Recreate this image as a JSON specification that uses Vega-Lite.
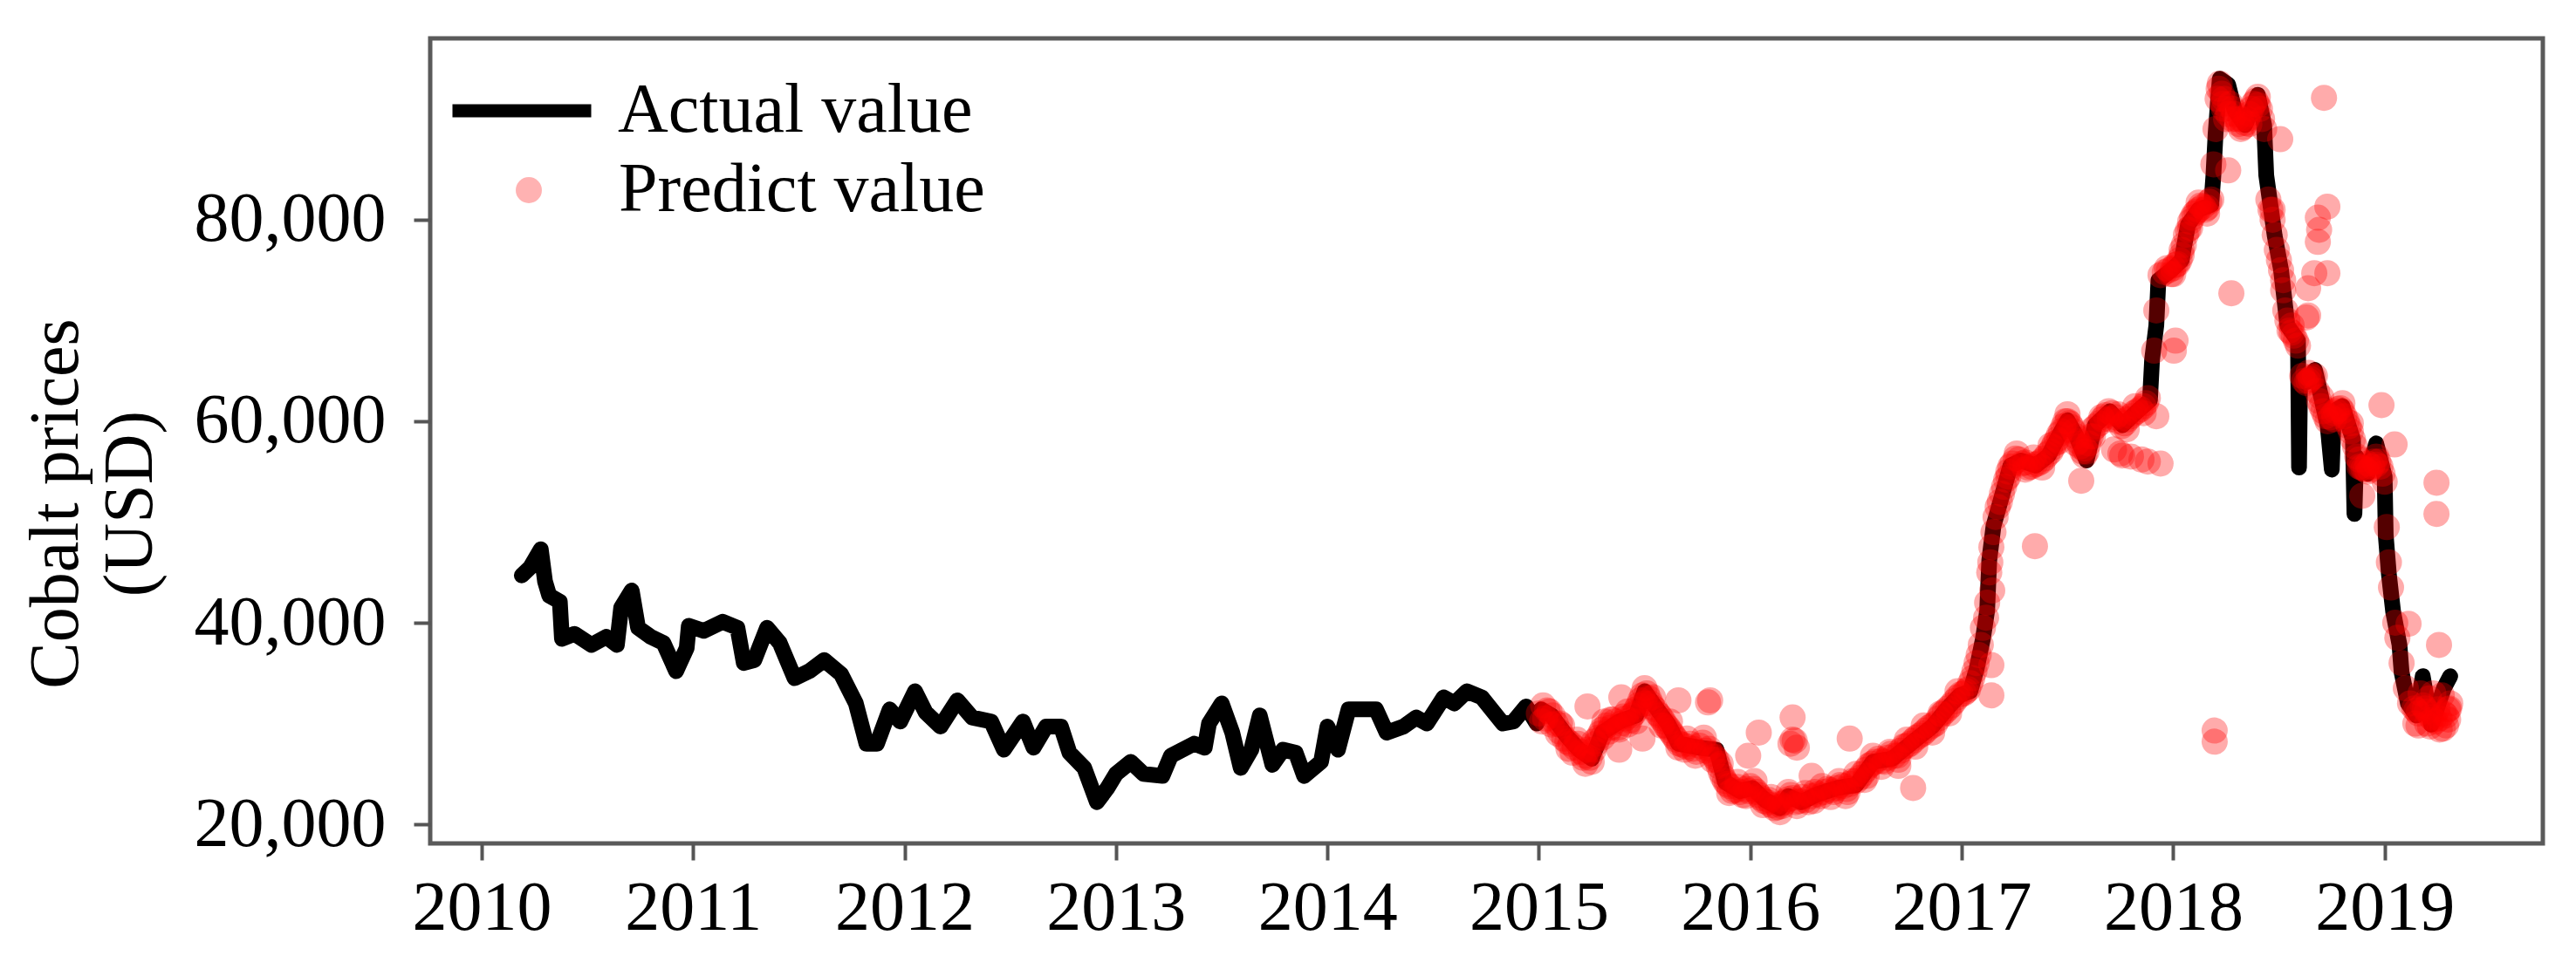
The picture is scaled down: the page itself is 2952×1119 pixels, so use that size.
{
  "$schema": "https://vega.github.io/schema/vega-lite/v6.json",
  "width": 2421,
  "height": 923,
  "autosize": {"type": "none"},
  "padding": {"left": 493, "top": 44, "right": 38, "bottom": 152},
  "background": "white",
  "config": {
    "view": {"stroke": "#5a5a5a", "strokeWidth": 5},
    "font": "Liberation Serif",
    "axis": {
      "labelFont": "Liberation Serif",
      "labelFontSize": 80,
      "labelColor": "black",
      "labelLimit": 0,
      "labelOverlap": false,
      "labelFlush": false,
      "titleFont": "Liberation Serif",
      "titleFontSize": 80,
      "titleFontWeight": "normal",
      "titleColor": "black",
      "tickColor": "#555555",
      "tickWidth": 4,
      "tickSize": 19,
      "grid": false,
      "domain": false
    }
  },
  "datasets": {
    "actual": [
      {"t": 2010.19, "price": 44700}, {"t": 2010.23, "price": 45500}, {"t": 2010.28, "price": 47300},
      {"t": 2010.30, "price": 44100}, {"t": 2010.32, "price": 42700}, {"t": 2010.37, "price": 42100},
      {"t": 2010.38, "price": 38400}, {"t": 2010.44, "price": 38900}, {"t": 2010.52, "price": 37800},
      {"t": 2010.59, "price": 38600}, {"t": 2010.64, "price": 37800}, {"t": 2010.66, "price": 41500},
      {"t": 2010.71, "price": 43200}, {"t": 2010.74, "price": 39500}, {"t": 2010.80, "price": 38600},
      {"t": 2010.86, "price": 38000}, {"t": 2010.92, "price": 35200}, {"t": 2010.97, "price": 37500},
      {"t": 2010.98, "price": 39700}, {"t": 2011.05, "price": 39200}, {"t": 2011.14, "price": 40100},
      {"t": 2011.21, "price": 39500}, {"t": 2011.24, "price": 36000}, {"t": 2011.29, "price": 36300},
      {"t": 2011.35, "price": 39500}, {"t": 2011.41, "price": 38000}, {"t": 2011.48, "price": 34500},
      {"t": 2011.55, "price": 35200}, {"t": 2011.62, "price": 36300}, {"t": 2011.70, "price": 34900},
      {"t": 2011.77, "price": 32000}, {"t": 2011.82, "price": 28000}, {"t": 2011.87, "price": 28000},
      {"t": 2011.93, "price": 31400}, {"t": 2011.98, "price": 30200}, {"t": 2012.05, "price": 33200},
      {"t": 2012.10, "price": 31100}, {"t": 2012.17, "price": 29700}, {"t": 2012.25, "price": 32300},
      {"t": 2012.32, "price": 30600}, {"t": 2012.41, "price": 30200}, {"t": 2012.47, "price": 27400},
      {"t": 2012.56, "price": 30200}, {"t": 2012.61, "price": 27600}, {"t": 2012.67, "price": 29700},
      {"t": 2012.74, "price": 29700}, {"t": 2012.78, "price": 27100}, {"t": 2012.85, "price": 25600},
      {"t": 2012.91, "price": 22200}, {"t": 2012.96, "price": 23600}, {"t": 2013.00, "price": 25000},
      {"t": 2013.07, "price": 26200}, {"t": 2013.13, "price": 25000}, {"t": 2013.22, "price": 24800},
      {"t": 2013.26, "price": 26800}, {"t": 2013.37, "price": 28000}, {"t": 2013.42, "price": 27600},
      {"t": 2013.44, "price": 30000}, {"t": 2013.50, "price": 32000}, {"t": 2013.55, "price": 29100},
      {"t": 2013.59, "price": 25600}, {"t": 2013.64, "price": 27400}, {"t": 2013.68, "price": 30800},
      {"t": 2013.74, "price": 25900}, {"t": 2013.79, "price": 27400}, {"t": 2013.85, "price": 27100},
      {"t": 2013.89, "price": 24800}, {"t": 2013.97, "price": 26200}, {"t": 2014.00, "price": 29700},
      {"t": 2014.05, "price": 27400}, {"t": 2014.10, "price": 31400}, {"t": 2014.18, "price": 31400},
      {"t": 2014.23, "price": 31400}, {"t": 2014.28, "price": 29100}, {"t": 2014.36, "price": 29700},
      {"t": 2014.42, "price": 30600}, {"t": 2014.47, "price": 30000}, {"t": 2014.55, "price": 32600},
      {"t": 2014.60, "price": 32000}, {"t": 2014.66, "price": 33200}, {"t": 2014.73, "price": 32600},
      {"t": 2014.83, "price": 30000}, {"t": 2014.88, "price": 30200}, {"t": 2014.94, "price": 31700},
      {"t": 2014.99, "price": 30000}, {"t": 2015.01, "price": 31400}, {"t": 2015.06, "price": 30800},
      {"t": 2015.13, "price": 28800}, {"t": 2015.19, "price": 27400}, {"t": 2015.25, "price": 26500},
      {"t": 2015.30, "price": 29100}, {"t": 2015.38, "price": 30200}, {"t": 2015.46, "price": 30800},
      {"t": 2015.50, "price": 33200}, {"t": 2015.55, "price": 31700}, {"t": 2015.61, "price": 30000},
      {"t": 2015.66, "price": 28000}, {"t": 2015.76, "price": 27600}, {"t": 2015.84, "price": 27400},
      {"t": 2015.88, "price": 24200}, {"t": 2015.95, "price": 23300}, {"t": 2016.01, "price": 23600},
      {"t": 2016.07, "price": 22400}, {"t": 2016.14, "price": 21600}, {"t": 2016.18, "price": 22800},
      {"t": 2016.24, "price": 22200}, {"t": 2016.32, "price": 23000}, {"t": 2016.41, "price": 23600},
      {"t": 2016.50, "price": 23900}, {"t": 2016.58, "price": 26200}, {"t": 2016.67, "price": 26500},
      {"t": 2016.77, "price": 28200}, {"t": 2016.86, "price": 29700}, {"t": 2016.94, "price": 31700},
      {"t": 2016.99, "price": 32800}, {"t": 2017.04, "price": 33200}, {"t": 2017.07, "price": 35400},
      {"t": 2017.10, "price": 38400}, {"t": 2017.12, "price": 41200}, {"t": 2017.13, "price": 46200},
      {"t": 2017.15, "price": 49600}, {"t": 2017.19, "price": 52600}, {"t": 2017.23, "price": 55600},
      {"t": 2017.28, "price": 56100}, {"t": 2017.35, "price": 55600}, {"t": 2017.41, "price": 56600},
      {"t": 2017.46, "price": 58600}, {"t": 2017.50, "price": 60100}, {"t": 2017.54, "price": 58600},
      {"t": 2017.59, "price": 56100}, {"t": 2017.63, "price": 59600}, {"t": 2017.70, "price": 61000},
      {"t": 2017.76, "price": 59600}, {"t": 2017.83, "price": 61000}, {"t": 2017.89, "price": 62100},
      {"t": 2017.90, "price": 66100}, {"t": 2017.92, "price": 69500}, {"t": 2017.93, "price": 74000},
      {"t": 2017.99, "price": 75000}, {"t": 2018.04, "price": 76000}, {"t": 2018.07, "price": 79500},
      {"t": 2018.12, "price": 81000}, {"t": 2018.18, "price": 81500}, {"t": 2018.19, "price": 84400},
      {"t": 2018.20, "price": 88400}, {"t": 2018.22, "price": 94000}, {"t": 2018.26, "price": 93400},
      {"t": 2018.29, "price": 90900}, {"t": 2018.34, "price": 89400}, {"t": 2018.40, "price": 92400},
      {"t": 2018.43, "price": 89400}, {"t": 2018.44, "price": 84400}, {"t": 2018.48, "price": 78400},
      {"t": 2018.51, "price": 75000}, {"t": 2018.54, "price": 69500}, {"t": 2018.59, "price": 68000},
      {"t": 2018.595, "price": 55400}, {"t": 2018.60, "price": 64000}, {"t": 2018.63, "price": 63900},
      {"t": 2018.67, "price": 65100}, {"t": 2018.73, "price": 59600}, {"t": 2018.75, "price": 55200},
      {"t": 2018.76, "price": 61000}, {"t": 2018.80, "price": 61500}, {"t": 2018.85, "price": 58200},
      {"t": 2018.857, "price": 50800}, {"t": 2018.865, "price": 56500}, {"t": 2018.92, "price": 54800},
      {"t": 2018.96, "price": 57800}, {"t": 2019.00, "price": 54500}, {"t": 2019.005, "price": 48700},
      {"t": 2019.02, "price": 44800}, {"t": 2019.04, "price": 41100}, {"t": 2019.07, "price": 37800},
      {"t": 2019.08, "price": 35100}, {"t": 2019.11, "price": 32000}, {"t": 2019.15, "price": 30800},
      {"t": 2019.18, "price": 34700}, {"t": 2019.22, "price": 29900}, {"t": 2019.28, "price": 33500},
      {"t": 2019.31, "price": 34700}
    ],
    "predict": [
      {"t": 2015.00, "price": 31000}, {"t": 2015.03, "price": 30500}, {"t": 2015.05, "price": 31200},
      {"t": 2015.08, "price": 30000}, {"t": 2015.10, "price": 29200}, {"t": 2015.12, "price": 28500},
      {"t": 2015.15, "price": 28000}, {"t": 2015.17, "price": 27600}, {"t": 2015.20, "price": 27200},
      {"t": 2015.22, "price": 26800}, {"t": 2015.24, "price": 26600}, {"t": 2015.26, "price": 27400},
      {"t": 2015.28, "price": 28600}, {"t": 2015.30, "price": 29400}, {"t": 2015.32, "price": 29800},
      {"t": 2015.34, "price": 29600}, {"t": 2015.36, "price": 30200}, {"t": 2015.39, "price": 30000},
      {"t": 2015.41, "price": 30500}, {"t": 2015.43, "price": 30300}, {"t": 2015.45, "price": 31000},
      {"t": 2015.47, "price": 31800}, {"t": 2015.49, "price": 32800}, {"t": 2015.51, "price": 33000},
      {"t": 2015.53, "price": 32000}, {"t": 2015.55, "price": 31400}, {"t": 2015.57, "price": 30800},
      {"t": 2015.59, "price": 30200}, {"t": 2015.61, "price": 29600}, {"t": 2015.63, "price": 29000},
      {"t": 2015.65, "price": 28400}, {"t": 2015.68, "price": 27900}, {"t": 2015.70, "price": 27700},
      {"t": 2015.73, "price": 27500}, {"t": 2015.76, "price": 27800}, {"t": 2015.79, "price": 27300},
      {"t": 2015.82, "price": 27000}, {"t": 2015.84, "price": 26400}, {"t": 2015.86, "price": 25200},
      {"t": 2015.88, "price": 24300}, {"t": 2015.90, "price": 23800}, {"t": 2015.93, "price": 23400},
      {"t": 2015.95, "price": 23200}, {"t": 2015.98, "price": 23500}, {"t": 2016.00, "price": 23800},
      {"t": 2016.03, "price": 23200}, {"t": 2016.05, "price": 22600}, {"t": 2016.08, "price": 22200},
      {"t": 2016.10, "price": 21900}, {"t": 2016.13, "price": 21700}, {"t": 2016.15, "price": 21800},
      {"t": 2016.18, "price": 22500}, {"t": 2016.20, "price": 22600}, {"t": 2016.23, "price": 22300},
      {"t": 2016.26, "price": 22400}, {"t": 2016.29, "price": 22800}, {"t": 2016.32, "price": 23000},
      {"t": 2016.35, "price": 23200}, {"t": 2016.38, "price": 23400}, {"t": 2016.41, "price": 23600},
      {"t": 2016.44, "price": 23800}, {"t": 2016.47, "price": 24000}, {"t": 2016.50, "price": 24300},
      {"t": 2016.53, "price": 25000}, {"t": 2016.56, "price": 25800}, {"t": 2016.59, "price": 26200},
      {"t": 2016.62, "price": 26300}, {"t": 2016.65, "price": 26600}, {"t": 2016.68, "price": 26800},
      {"t": 2016.71, "price": 27300}, {"t": 2016.74, "price": 27800}, {"t": 2016.77, "price": 28300},
      {"t": 2016.80, "price": 28800}, {"t": 2016.83, "price": 29300}, {"t": 2016.86, "price": 29800},
      {"t": 2016.89, "price": 30500}, {"t": 2016.92, "price": 31200}, {"t": 2016.95, "price": 31800},
      {"t": 2016.98, "price": 32600}, {"t": 2017.01, "price": 33000}, {"t": 2017.03, "price": 33400},
      {"t": 2017.05, "price": 34500}, {"t": 2017.07, "price": 36000}, {"t": 2017.09, "price": 37800},
      {"t": 2017.10, "price": 39500}, {"t": 2017.12, "price": 42000}, {"t": 2017.13, "price": 45000},
      {"t": 2017.14, "price": 47500}, {"t": 2017.16, "price": 50500}, {"t": 2017.18, "price": 52000},
      {"t": 2017.20, "price": 53500}, {"t": 2017.22, "price": 55000}, {"t": 2017.24, "price": 55800},
      {"t": 2017.27, "price": 56200}, {"t": 2017.30, "price": 55900}, {"t": 2017.33, "price": 55500},
      {"t": 2017.36, "price": 55800}, {"t": 2017.39, "price": 56300}, {"t": 2017.42, "price": 57000},
      {"t": 2017.44, "price": 57800}, {"t": 2017.46, "price": 58700}, {"t": 2017.48, "price": 59500},
      {"t": 2017.50, "price": 60000}, {"t": 2017.52, "price": 59400}, {"t": 2017.54, "price": 58500},
      {"t": 2017.56, "price": 57500}, {"t": 2017.58, "price": 56600}, {"t": 2017.60, "price": 57800},
      {"t": 2017.62, "price": 59200}, {"t": 2017.65, "price": 59800}, {"t": 2017.68, "price": 60600},
      {"t": 2017.71, "price": 60800}, {"t": 2017.74, "price": 60000}, {"t": 2017.77, "price": 59800},
      {"t": 2017.80, "price": 60500}, {"t": 2017.83, "price": 61000}, {"t": 2017.86, "price": 61500},
      {"t": 2017.88, "price": 62300}, {"t": 2017.91, "price": 67000}, {"t": 2017.92, "price": 71000},
      {"t": 2017.94, "price": 74500}, {"t": 2017.96, "price": 74800}, {"t": 2017.98, "price": 75000},
      {"t": 2018.00, "price": 75200}, {"t": 2018.02, "price": 75600}, {"t": 2018.04, "price": 76500},
      {"t": 2018.06, "price": 78500}, {"t": 2018.08, "price": 79800}, {"t": 2018.10, "price": 80600},
      {"t": 2018.12, "price": 81000}, {"t": 2018.14, "price": 81300}, {"t": 2018.16, "price": 81200},
      {"t": 2018.18, "price": 82000}, {"t": 2018.19, "price": 85500}, {"t": 2018.20, "price": 89000},
      {"t": 2018.21, "price": 92000}, {"t": 2018.22, "price": 93500}, {"t": 2018.23, "price": 92500},
      {"t": 2018.24, "price": 91000}, {"t": 2018.25, "price": 90000}, {"t": 2018.27, "price": 91500},
      {"t": 2018.29, "price": 90500}, {"t": 2018.31, "price": 89500}, {"t": 2018.33, "price": 89200},
      {"t": 2018.35, "price": 90000}, {"t": 2018.37, "price": 91000}, {"t": 2018.39, "price": 91800},
      {"t": 2018.41, "price": 91000}, {"t": 2018.43, "price": 89000}, {"t": 2018.45, "price": 82000},
      {"t": 2018.47, "price": 80000}, {"t": 2018.49, "price": 77000}, {"t": 2018.51, "price": 75000},
      {"t": 2018.53, "price": 71000}, {"t": 2018.55, "price": 69000}, {"t": 2018.57, "price": 68500},
      {"t": 2018.59, "price": 67500}, {"t": 2018.61, "price": 64500}, {"t": 2018.63, "price": 63800},
      {"t": 2018.65, "price": 64200}, {"t": 2018.67, "price": 64500}, {"t": 2018.69, "price": 62000},
      {"t": 2018.71, "price": 61000}, {"t": 2018.73, "price": 60000}, {"t": 2018.76, "price": 60800},
      {"t": 2018.78, "price": 61200}, {"t": 2018.80, "price": 61000}, {"t": 2018.82, "price": 60000},
      {"t": 2018.84, "price": 59000}, {"t": 2018.86, "price": 57500}, {"t": 2018.88, "price": 55500},
      {"t": 2018.90, "price": 55300}, {"t": 2018.92, "price": 55000}, {"t": 2018.94, "price": 55500},
      {"t": 2018.96, "price": 56500}, {"t": 2018.98, "price": 55500}, {"t": 2019.00, "price": 54000},
      {"t": 2019.01, "price": 49500}, {"t": 2019.02, "price": 46000}, {"t": 2019.03, "price": 43500},
      {"t": 2019.05, "price": 40000}, {"t": 2019.06, "price": 38500}, {"t": 2019.08, "price": 36000},
      {"t": 2019.10, "price": 33500}, {"t": 2019.12, "price": 32000}, {"t": 2019.14, "price": 31500},
      {"t": 2019.16, "price": 31000}, {"t": 2019.17, "price": 33000}, {"t": 2019.18, "price": 31800},
      {"t": 2019.20, "price": 31200}, {"t": 2019.21, "price": 32500}, {"t": 2019.22, "price": 30600},
      {"t": 2019.24, "price": 30200}, {"t": 2019.26, "price": 30500}, {"t": 2019.27, "price": 32800},
      {"t": 2019.28, "price": 31000}, {"t": 2019.29, "price": 29800}, {"t": 2019.30, "price": 30400},
      {"t": 2019.31, "price": 32000},
      {"t": 2015.015, "price": 30200}, {"t": 2015.04, "price": 31300}, {"t": 2015.065, "price": 30800},
      {"t": 2015.09, "price": 29000}, {"t": 2015.11, "price": 29800}, {"t": 2015.135, "price": 28200},
      {"t": 2015.16, "price": 27100}, {"t": 2015.185, "price": 28000}, {"t": 2015.21, "price": 26600},
      {"t": 2015.23, "price": 27400}, {"t": 2015.25, "price": 26200}, {"t": 2015.27, "price": 28000},
      {"t": 2015.29, "price": 29000}, {"t": 2015.31, "price": 30200}, {"t": 2015.33, "price": 29200},
      {"t": 2015.35, "price": 30400}, {"t": 2015.375, "price": 29600}, {"t": 2015.40, "price": 30700},
      {"t": 2015.42, "price": 29900}, {"t": 2015.44, "price": 30800}, {"t": 2015.46, "price": 31400},
      {"t": 2015.48, "price": 32300}, {"t": 2015.50, "price": 33500}, {"t": 2015.52, "price": 32500},
      {"t": 2015.54, "price": 31600}, {"t": 2015.56, "price": 31000}, {"t": 2015.58, "price": 30500},
      {"t": 2015.60, "price": 29800}, {"t": 2015.62, "price": 29300}, {"t": 2015.64, "price": 28700},
      {"t": 2015.665, "price": 28000}, {"t": 2015.69, "price": 27400}, {"t": 2015.715, "price": 28000},
      {"t": 2015.745, "price": 27200}, {"t": 2015.775, "price": 28100}, {"t": 2015.805, "price": 27500},
      {"t": 2015.83, "price": 26700}, {"t": 2015.85, "price": 25800}, {"t": 2015.87, "price": 24700},
      {"t": 2015.89, "price": 24000}, {"t": 2015.915, "price": 23300}, {"t": 2015.94, "price": 23700},
      {"t": 2015.965, "price": 22900}, {"t": 2015.99, "price": 23300}, {"t": 2016.015, "price": 23500},
      {"t": 2016.04, "price": 22900}, {"t": 2016.065, "price": 22300}, {"t": 2016.09, "price": 22400},
      {"t": 2016.115, "price": 21600}, {"t": 2016.14, "price": 22000}, {"t": 2016.165, "price": 22200},
      {"t": 2016.19, "price": 22900}, {"t": 2016.215, "price": 22200}, {"t": 2016.245, "price": 22700},
      {"t": 2016.275, "price": 22200}, {"t": 2016.305, "price": 23200}, {"t": 2016.335, "price": 22800},
      {"t": 2016.365, "price": 23500}, {"t": 2016.395, "price": 23200}, {"t": 2016.425, "price": 23900},
      {"t": 2016.455, "price": 23500}, {"t": 2016.485, "price": 24300}, {"t": 2016.515, "price": 24600},
      {"t": 2016.545, "price": 25400}, {"t": 2016.575, "price": 26000}, {"t": 2016.605, "price": 26500},
      {"t": 2016.635, "price": 26200}, {"t": 2016.665, "price": 27000}, {"t": 2016.695, "price": 26800},
      {"t": 2016.725, "price": 27700}, {"t": 2016.755, "price": 28000}, {"t": 2016.785, "price": 28600},
      {"t": 2016.815, "price": 29000}, {"t": 2016.845, "price": 29600}, {"t": 2016.875, "price": 30000},
      {"t": 2016.905, "price": 30900}, {"t": 2016.935, "price": 31500}, {"t": 2016.965, "price": 32200},
      {"t": 2016.995, "price": 32900}, {"t": 2017.02, "price": 33200}, {"t": 2017.04, "price": 34000},
      {"t": 2017.06, "price": 35200}, {"t": 2017.08, "price": 36800}, {"t": 2017.115, "price": 40500},
      {"t": 2017.135, "price": 46000}, {"t": 2017.15, "price": 49000}, {"t": 2017.17, "price": 51500},
      {"t": 2017.19, "price": 52800}, {"t": 2017.21, "price": 54200}, {"t": 2017.23, "price": 55500},
      {"t": 2017.255, "price": 56300}, {"t": 2017.285, "price": 55800}, {"t": 2017.315, "price": 55400},
      {"t": 2017.345, "price": 55700}, {"t": 2017.375, "price": 56000}, {"t": 2017.405, "price": 56700},
      {"t": 2017.43, "price": 57400}, {"t": 2017.45, "price": 58200}, {"t": 2017.47, "price": 59000},
      {"t": 2017.49, "price": 60000}, {"t": 2017.51, "price": 59800}, {"t": 2017.53, "price": 59000},
      {"t": 2017.55, "price": 58000}, {"t": 2017.57, "price": 57000}, {"t": 2017.59, "price": 57000},
      {"t": 2017.61, "price": 58500}, {"t": 2017.635, "price": 59500}, {"t": 2017.665, "price": 60200},
      {"t": 2017.695, "price": 61000}, {"t": 2017.725, "price": 60400}, {"t": 2017.755, "price": 59500},
      {"t": 2017.785, "price": 60200}, {"t": 2017.815, "price": 60800}, {"t": 2017.845, "price": 61200},
      {"t": 2017.87, "price": 61800}, {"t": 2017.97, "price": 75200}, {"t": 2017.99, "price": 74600},
      {"t": 2018.01, "price": 75500}, {"t": 2018.03, "price": 76000}, {"t": 2018.05, "price": 77500},
      {"t": 2018.07, "price": 79000}, {"t": 2018.09, "price": 80200}, {"t": 2018.11, "price": 80800},
      {"t": 2018.13, "price": 81400}, {"t": 2018.15, "price": 81000}, {"t": 2018.17, "price": 81800},
      {"t": 2018.215, "price": 93000}, {"t": 2018.235, "price": 91500}, {"t": 2018.26, "price": 90500},
      {"t": 2018.28, "price": 91000}, {"t": 2018.30, "price": 90000}, {"t": 2018.32, "price": 89000},
      {"t": 2018.34, "price": 89600}, {"t": 2018.36, "price": 90500}, {"t": 2018.38, "price": 91500},
      {"t": 2018.40, "price": 91400}, {"t": 2018.42, "price": 90000}, {"t": 2018.46, "price": 81000},
      {"t": 2018.48, "price": 78500}, {"t": 2018.50, "price": 76000}, {"t": 2018.52, "price": 73000},
      {"t": 2018.54, "price": 70000}, {"t": 2018.56, "price": 68800}, {"t": 2018.58, "price": 68000},
      {"t": 2018.62, "price": 64000}, {"t": 2018.64, "price": 64000}, {"t": 2018.66, "price": 64400},
      {"t": 2018.68, "price": 63000}, {"t": 2018.70, "price": 61500}, {"t": 2018.72, "price": 60500},
      {"t": 2018.745, "price": 60400}, {"t": 2018.77, "price": 61000}, {"t": 2018.79, "price": 61300},
      {"t": 2018.81, "price": 60500}, {"t": 2018.83, "price": 59500}, {"t": 2018.85, "price": 58200},
      {"t": 2018.87, "price": 56500}, {"t": 2018.89, "price": 55400}, {"t": 2018.91, "price": 55200},
      {"t": 2018.93, "price": 55200}, {"t": 2018.95, "price": 56000}, {"t": 2018.97, "price": 56000},
      {"t": 2018.99, "price": 54800}, {"t": 2019.15, "price": 31300}, {"t": 2019.19, "price": 31500},
      {"t": 2019.23, "price": 30400}, {"t": 2019.25, "price": 31400}, {"t": 2019.29, "price": 30800},
      {"t": 2019.305, "price": 31500}, {"t": 2019.145, "price": 30000}, {"t": 2019.215, "price": 29700},
      {"t": 2019.275, "price": 29500},
      {"t": 2015.02, "price": 31800}, {"t": 2015.06, "price": 29900}, {"t": 2015.10, "price": 30000},
      {"t": 2015.14, "price": 27500}, {"t": 2015.18, "price": 28400}, {"t": 2015.22, "price": 26000},
      {"t": 2015.26, "price": 28200}, {"t": 2015.30, "price": 28600}, {"t": 2015.34, "price": 30400},
      {"t": 2015.38, "price": 29400}, {"t": 2015.42, "price": 31200}, {"t": 2015.46, "price": 30200},
      {"t": 2015.50, "price": 32000}, {"t": 2015.54, "price": 32600}, {"t": 2015.58, "price": 29800},
      {"t": 2015.62, "price": 30200}, {"t": 2015.66, "price": 27600}, {"t": 2015.70, "price": 28500},
      {"t": 2015.74, "price": 26800}, {"t": 2015.78, "price": 28600}, {"t": 2015.82, "price": 26400},
      {"t": 2015.86, "price": 26000}, {"t": 2015.90, "price": 23100}, {"t": 2015.94, "price": 24200},
      {"t": 2015.98, "price": 22800}, {"t": 2016.02, "price": 24300}, {"t": 2016.06, "price": 21900},
      {"t": 2016.10, "price": 22700}, {"t": 2016.14, "price": 21200}, {"t": 2016.18, "price": 23200},
      {"t": 2016.22, "price": 21800}, {"t": 2016.26, "price": 23100}, {"t": 2016.30, "price": 22300},
      {"t": 2016.34, "price": 23800}, {"t": 2016.38, "price": 22700}, {"t": 2016.42, "price": 24300},
      {"t": 2016.46, "price": 23200}, {"t": 2016.50, "price": 25000}, {"t": 2016.54, "price": 24400},
      {"t": 2016.58, "price": 26800}, {"t": 2016.62, "price": 25700}, {"t": 2016.66, "price": 27200},
      {"t": 2016.70, "price": 26400}, {"t": 2016.74, "price": 28400}, {"t": 2016.78, "price": 27700},
      {"t": 2016.82, "price": 29800}, {"t": 2016.86, "price": 29100}, {"t": 2016.90, "price": 31000},
      {"t": 2016.94, "price": 31000}, {"t": 2016.98, "price": 33200},
      {"t": 2017.22, "price": 54500}, {"t": 2017.26, "price": 56800}, {"t": 2017.30, "price": 55200},
      {"t": 2017.34, "price": 56400}, {"t": 2017.38, "price": 55400}, {"t": 2017.42, "price": 57600},
      {"t": 2017.46, "price": 58000}, {"t": 2017.50, "price": 60700}, {"t": 2017.54, "price": 57800},
      {"t": 2017.58, "price": 57300}, {"t": 2017.62, "price": 58500}, {"t": 2017.66, "price": 60400},
      {"t": 2017.70, "price": 60200}, {"t": 2017.74, "price": 60700}, {"t": 2017.78, "price": 59200},
      {"t": 2017.82, "price": 61500}, {"t": 2017.86, "price": 60800}, {"t": 2018.00, "price": 74600},
      {"t": 2018.04, "price": 77000}, {"t": 2018.08, "price": 79200}, {"t": 2018.12, "price": 81700},
      {"t": 2018.16, "price": 80600}, {"t": 2018.24, "price": 92000}, {"t": 2018.28, "price": 90000},
      {"t": 2018.32, "price": 90000}, {"t": 2018.36, "price": 89500}, {"t": 2018.40, "price": 92200},
      {"t": 2018.47, "price": 81000}, {"t": 2018.52, "price": 74000}, {"t": 2018.56, "price": 69500},
      {"t": 2018.64, "price": 64800}, {"t": 2018.70, "price": 62400}, {"t": 2018.76, "price": 60200},
      {"t": 2018.80, "price": 61800}, {"t": 2018.84, "price": 59800}, {"t": 2018.88, "price": 56200},
      {"t": 2018.92, "price": 55800}, {"t": 2018.96, "price": 55700}, {"t": 2019.16, "price": 29800},
      {"t": 2019.20, "price": 30000}, {"t": 2019.26, "price": 29400}, {"t": 2019.30, "price": 31400},
      {"t": 2019.23, "price": 33000},
      {"t": 2016.19, "price": 28000}, {"t": 2016.21, "price": 28300}, {"t": 2016.22, "price": 27600},
      {"t": 2016.20, "price": 28400}, {"t": 2018.684, "price": 80200}, {"t": 2018.684, "price": 77800},
      {"t": 2018.667, "price": 74700}, {"t": 2018.729, "price": 74700}, {"t": 2018.69, "price": 79000},
      {"t": 2015.23, "price": 31700}, {"t": 2015.39, "price": 32600}, {"t": 2015.38, "price": 27400},
      {"t": 2015.80, "price": 32100}, {"t": 2015.81, "price": 32300}, {"t": 2015.66, "price": 32300},
      {"t": 2016.04, "price": 29100}, {"t": 2015.99, "price": 26800}, {"t": 2016.20, "price": 30600},
      {"t": 2016.47, "price": 28500}, {"t": 2016.77, "price": 23600}, {"t": 2017.14, "price": 32800},
      {"t": 2017.14, "price": 35800}, {"t": 2015.49, "price": 28500}, {"t": 2016.29, "price": 24800},
      {"t": 2016.55, "price": 24800}, {"t": 2016.70, "price": 25800}, {"t": 2016.45, "price": 22800},
      {"t": 2018.275, "price": 72700}, {"t": 2018.506, "price": 88000}, {"t": 2018.011, "price": 68000},
      {"t": 2018.003, "price": 67000}, {"t": 2017.346, "price": 47600}, {"t": 2017.565, "price": 54100},
      {"t": 2017.759, "price": 56600}, {"t": 2017.94, "price": 55800}, {"t": 2018.196, "price": 29300},
      {"t": 2018.196, "price": 28200}, {"t": 2017.144, "price": 43200}, {"t": 2019.245, "price": 53900},
      {"t": 2019.245, "price": 50800}, {"t": 2018.985, "price": 61600}, {"t": 2019.047, "price": 57700},
      {"t": 2019.257, "price": 37800}, {"t": 2019.113, "price": 39900}, {"t": 2018.894, "price": 52600},
      {"t": 2018.63, "price": 70300}, {"t": 2018.713, "price": 92100}, {"t": 2018.638, "price": 73200},
      {"t": 2018.638, "price": 70500}, {"t": 2018.729, "price": 81300}, {"t": 2017.75, "price": 56800},
      {"t": 2017.80, "price": 56500}, {"t": 2017.85, "price": 56200}, {"t": 2017.88, "price": 56000},
      {"t": 2017.72, "price": 57200}, {"t": 2017.92, "price": 60500}, {"t": 2018.26, "price": 84900}
    ]
  },
  "encoding": {
    "x": {
      "field": "t",
      "type": "quantitative",
      "scale": {"domain": [2009.757, 2019.748], "nice": false, "zero": false},
      "axis": {
        "values": [2010, 2011, 2012, 2013, 2014, 2015, 2016, 2017, 2018, 2019],
        "format": "d",
        "title": null,
        "labelPadding": 16
      }
    },
    "y": {
      "field": "price",
      "type": "quantitative",
      "scale": {"domain": [18100, 98000], "nice": false, "zero": false},
      "axis": {
        "values": [20000, 40000, 60000, 80000],
        "format": ",d",
        "title": ["Cobalt prices", "(USD)"],
        "labelPadding": 32,
        "titleAngle": -90,
        "titleX": -405,
        "titleY": 533,
        "titleAlign": "center",
        "titleBaseline": "alphabetic",
        "titleLineHeight": 85
      }
    }
  },
  "layer": [
    {
      "data": {"name": "actual"},
      "mark": {"type": "line", "strokeWidth": 18, "strokeJoin": "round", "strokeCap": "round"},
      "encoding": {
        "color": {
          "datum": "Actual value",
          "scale": {"domain": ["Actual value"], "range": ["black"]},
          "legend": {
            "orient": "none",
            "legendX": 18,
            "legendY": -4,
            "title": null,
            "padding": 0,
            "symbolType": "stroke",
            "symbolSize": 25281,
            "symbolStrokeWidth": 15,
            "labelFont": "Liberation Serif",
            "labelFontSize": 80,
            "labelColor": "black",
            "labelLimit": 0,
            "labelOffset": 23
          }
        }
      }
    },
    {
      "data": {"name": "predict"},
      "mark": {"type": "circle", "size": 900, "opacity": 0.33},
      "encoding": {
        "fill": {
          "datum": "Predict value",
          "scale": {"domain": ["Predict value"], "range": ["red"]},
          "legend": {
            "orient": "none",
            "legendX": 73,
            "legendY": 134,
            "title": null,
            "padding": 0,
            "symbolType": "circle",
            "symbolSize": 900,
            "symbolOpacity": 0.3,
            "labelFont": "Liberation Serif",
            "labelFontSize": 80,
            "labelColor": "black",
            "labelLimit": 0,
            "labelOffset": 63
          }
        }
      }
    }
  ]
}
